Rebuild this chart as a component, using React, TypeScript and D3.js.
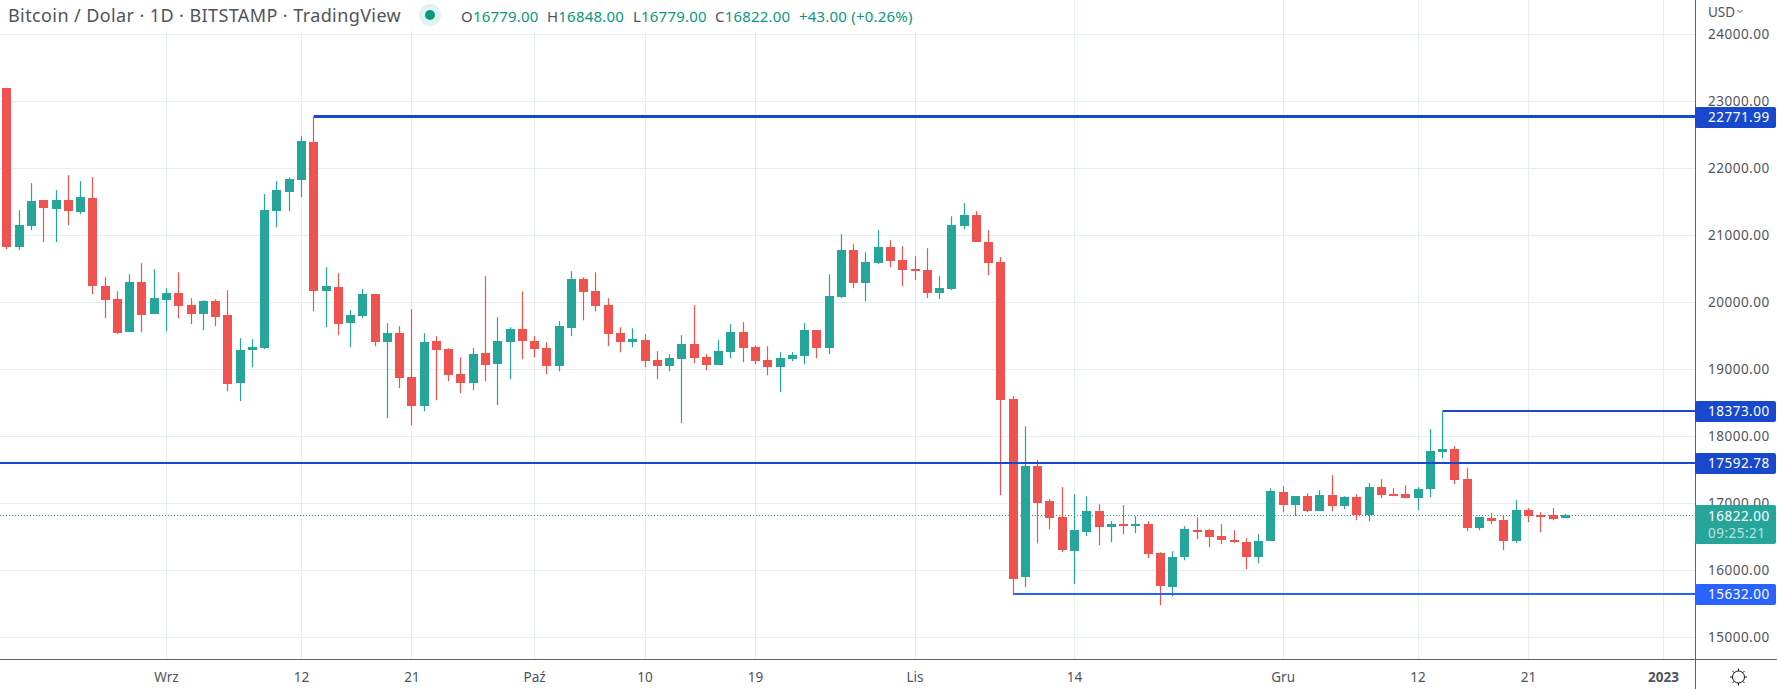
import * as d3 from "d3";

const W = 1777;
const H = 689;
const AXIS_X = 1695;
const AXIS_Y = 659;
const FONT = "'Noto Sans', sans-serif";
const UP = "#26a69a";
const DOWN = "#ef5350";
const GRID = "#e6edf3";
const TEXT = "#50535e";

// daily candles, first one is 19 Aug 2022
const firstDay = new Date(Date.UTC(2022, 7, 19));
const opens = [
  23199, 20826, 21139, 21527, 21393, 21527, 21348, 21557, 20243, 20049, 19557, 20303, 19825,
  20034, 20139, 19960, 19825, 20019, 19811, 18796, 19288, 19318, 21363, 21646, 21825, 22392, 20169, 20228, 19691, 19796, 20124, 19408, 19542, 18885, 18453, 19423, 19303, 18930, 18795, 19243, 19079, 19407, 19601,
  19422, 19318, 19049, 19616, 20347, 20168, 19959, 19541, 19407, 19437, 19139, 19049, 19153, 19377, 19183, 19064, 19258, 19556, 19332, 19139, 19034, 19153, 19198, 19586, 19318, 20079, 20780, 20288, 20586, 20826, 20632,
  20497, 20482, 20139, 20199, 21139, 21303, 20900, 20602, 18557, 15900, 17557, 17035, 16796, 16289, 16572, 16886, 16647, 16691, 16677, 16691, 16258, 15750, 16198, 16601, 16601, 16512, 16452, 16422, 16198, 16437,
  17169, 16975, 17109, 16885, 17124, 16960, 17094, 16825, 17243, 17139, 17139, 17079, 17214, 17766, 17811, 17362, 16631, 16780, 16750, 16437, 16900, 16825, 16825, 16779,
];
const highs = [
  23205, 21378, 21781, 21527, 21676, 21900, 21811, 21870, 20378, 20169, 20422, 20587, 20497,
  20214, 20452, 20064, 20034, 20049, 20184, 19467, 19452, 21617, 21811, 21870, 22482, 22771.99, 20527, 20437, 19885, 20199, 20124, 19691, 19646, 19900, 19542, 19497, 19318, 19183, 19318, 20392, 19780, 19631, 20168,
  19497, 19407, 19721, 20467, 20377, 20452, 20064, 19631, 19616, 19527, 19273, 19228, 19512, 19959, 19228, 19437, 19676, 19706, 19362, 19347, 19258, 19258, 19691, 19586, 20422, 21019, 20870, 20750, 21079, 20930, 20841,
  20691, 20811, 20393, 21288, 21482, 21363, 21079, 20676, 18602, 18154, 17647, 17065, 17244, 17139, 17109, 16990, 16736, 16975, 16811, 16736, 16273, 16288, 16661, 16795, 16616, 16691, 16601, 16482, 16542, 17228,
  17258, 17109, 17154, 17198, 17422, 17109, 17139, 17303, 17363, 17228, 17273, 17243, 18109, 18373, 17855, 17527, 16795, 16855, 16825, 17049, 16930, 16870, 16930, 16848,
];
const lows = [
  20796, 20781, 21079, 20900, 20900, 21154, 21318, 20124, 19766, 19527, 19557, 19557, 19825,
  19572, 19766, 19676, 19587, 19646, 18676, 18530, 19034, 19303, 21124, 21363, 21572, 19870, 19632, 19512, 19333, 19766, 19348, 18274, 18721, 18169, 18378, 18542, 18825, 18646, 18691, 18825, 18467, 18855, 19153,
  19183, 18930, 18974, 19497, 19735, 19870, 19347, 19258, 19332, 19034, 18855, 18974, 18200, 19094, 18989, 19064, 19168, 19109, 19079, 18915, 18661, 19124, 19079, 19168, 19228, 20064, 20213, 20019, 20571, 20527, 20244,
  20333, 20065, 20050, 20184, 21094, 20900, 20408, 17124, 15632, 15751, 16408, 16617, 16274, 15796, 16513, 16378, 16423, 16542, 16557, 16183, 15482, 15616, 16153, 16467, 16348, 16392, 16407, 16019, 16109, 16437,
  16870, 16810, 16870, 16885, 16885, 16915, 16751, 16736, 17079, 17109, 17079, 16900, 17094, 17676, 17288, 16586, 16601, 16691, 16303, 16407, 16721, 16571, 16750, 16779,
];
const closes = [
  20826, 21154, 21512, 21408, 21527, 21363, 21572, 20243, 20034, 19542, 20303, 19811, 20064,
  20139, 19945, 19825, 20019, 19781, 18781, 19288, 19333, 21378, 21676, 21840, 22408, 20169, 20243, 19676, 19811, 20124, 19408, 19542, 18871, 18453, 19408, 19288, 18915, 18795, 19228, 19064, 19422, 19601, 19422,
  19303, 19049, 19646, 20347, 20153, 19944, 19527, 19407, 19452, 19124, 19049, 19168, 19377, 19168, 19064, 19273, 19556, 19318, 19124, 19034, 19168, 19213, 19586, 19318, 20094, 20780, 20288, 20601, 20825, 20617, 20482,
  20468, 20139, 20214, 21154, 21303, 20900, 20587, 18542, 15870, 17557, 17005, 16781, 16304, 16602, 16886, 16647, 16691, 16677, 16691, 16243, 15765, 16198, 16616, 16586, 16497, 16452, 16422, 16198, 16437, 17184,
  16975, 17109, 16885, 17124, 16960, 17094, 16825, 17243, 17124, 17124, 17079, 17213, 17781, 17811, 17348, 16631, 16795, 16735, 16437, 16900, 16815, 16815, 16765, 16822,
];

const priceTicks = [24000, 23000, 22000, 21000, 20000, 19000, 18000, 17000, 16000, 15000];
const timeTicks: [Date, string, boolean][] = [
  [new Date(Date.UTC(2022, 8, 1)), "Wrz", false],
  [new Date(Date.UTC(2022, 8, 12)), "12", false],
  [new Date(Date.UTC(2022, 8, 21)), "21", false],
  [new Date(Date.UTC(2022, 9, 1)), "Paź", false],
  [new Date(Date.UTC(2022, 9, 10)), "10", false],
  [new Date(Date.UTC(2022, 9, 19)), "19", false],
  [new Date(Date.UTC(2022, 10, 1)), "Lis", false],
  [new Date(Date.UTC(2022, 10, 14)), "14", false],
  [new Date(Date.UTC(2022, 11, 1)), "Gru", false],
  [new Date(Date.UTC(2022, 11, 12)), "12", false],
  [new Date(Date.UTC(2022, 11, 21)), "21", false],
  [new Date(Date.UTC(2023, 0, 1)), "2023", true],
];

// drawn horizontal rays
const levelValues = [22771.99, 18373, 17592.78, 15632];
const levelStarts = [
  new Date(Date.UTC(2022, 8, 13)),
  new Date(Date.UTC(2022, 11, 14)),
  null,
  new Date(Date.UTC(2022, 10, 9)),
];
const levelColors = ["#1848cc", "#1848cc", "#1848cc", "#2962ff"];
const levelWidths = [3, 2, 2, 2];

const lastPrice = 16822;
const countdown = "09:25:21";
const changeText = "+43.00 (+0.26%)";

const x = d3
  .scaleUtc()
  .domain([new Date(Date.UTC(2022, 8, 1)), new Date(Date.UTC(2023, 0, 1))])
  .range([166.5, 1663.5]);
const y = d3.scaleLinear().domain([15000, 24000]).range([637.5, 34.5]);

const snap = (v: number) => Math.floor(v) + 0.5;
const fmt = d3.format(".2f");

// the rays sit about a pixel above the scale position in the screenshot
const levelY = (v: number, w: number) => Math.round(y(v) - 1) + (w % 2 ? 0.5 : 0);

const candles = opens.map((o, i) => ({
  date: d3.utcDay.offset(firstDay, i),
  o,
  h: highs[i],
  l: lows[i],
  c: closes[i],
}));

function Label({ value, width, color }: { value: number; width: number; color: string }) {
  const yy = levelY(value, width);
  return (
    <g>
      <rect x={AXIS_X} y={Math.round(yy - 10)} width={W - AXIS_X - 1} height={21} rx={2} fill={color} />
      <text x={1708} y={yy + 0.5} dy="0.35em" fill="#fff" fontSize={13.5} letterSpacing={0.5}>
        {fmt(value)}
      </text>
    </g>
  );
}

export default function App() {
  const last = candles[candles.length - 1];
  const gearAngles = d3.range(8).map((i) => (i * Math.PI) / 4);
  return (
    <svg
      width={W}
      height={H}
      viewBox={`0 0 ${W} ${H}`}
      style={{ position: "absolute", left: 0, top: 0, background: "#fff", fontFamily: FONT }}
    >
      <g stroke={GRID} strokeWidth={1}>
        {priceTicks.map((p) => (
          <line key={p} x1={0} x2={AXIS_X} y1={y(p)} y2={y(p)} />
        ))}
        {timeTicks.map(([d]) => (
          <line key={+d} x1={snap(x(d))} x2={snap(x(d))} y1={0} y2={AXIS_Y} />
        ))}
      </g>

      <line
        x1={0}
        x2={AXIS_X}
        y1={snap(y(lastPrice))}
        y2={snap(y(lastPrice))}
        stroke={UP}
        strokeWidth={1}
        strokeDasharray="1 2"
      />

      {candles.map((d) => {
        const cx = snap(x(d.date));
        const color = d.c >= d.o ? UP : DOWN;
        const top = Math.round(y(Math.max(d.o, d.c)));
        const bottom = Math.round(y(Math.min(d.o, d.c)));
        return (
          <g key={+d.date} fill={color} stroke="none">
            <line x1={cx} x2={cx} y1={y(d.h)} y2={y(d.l)} stroke={color} strokeWidth={1.2} />
            <rect x={cx - 4.5} y={top} width={9} height={Math.max(bottom - top, 2)} />
          </g>
        );
      })}

      {levelValues.map((v, i) => {
        const s = levelStarts[i];
        const ly = levelY(v, levelWidths[i]);
        return (
          <line
            key={v}
            x1={s ? x(s) : 0}
            x2={AXIS_X}
            y1={ly}
            y2={ly}
            stroke={levelColors[i]}
            strokeWidth={levelWidths[i]}
          />
        );
      })}

      {/* header strip */}
      <rect x={0} y={0} width={940} height={31} fill="#fff" fillOpacity={0.85} />
      <text x={8} y={16} dy="0.35em" fontSize={18} fill={TEXT} letterSpacing={0.4}>
        Bitcoin / Dolar · 1D · BITSTAMP · TradingView
      </text>
      <circle cx={430} cy={15} r={11} fill="#dff3ef" />
      <circle cx={430} cy={15} r={5} fill="#089981" />
      <g fontSize={15} letterSpacing={0.2} dominantBaseline="central">
        {[
          ["O", last.o, 461],
          ["H", last.h, 547],
          ["L", last.l, 633],
          ["C", last.c, 715],
        ].map(([k, v, px]) => (
          <text key={k as string} x={px as number} y={16} fill="#089981">
            <tspan fill={TEXT}>{k as string}</tspan>
            {fmt(v as number)}
          </text>
        ))}
        <text x={799} y={16} fill="#089981">
          {changeText}
        </text>
      </g>

      {/* price axis */}
      <rect x={AXIS_X} y={0} width={W - AXIS_X} height={H} fill="#fff" />
      <line x1={AXIS_X + 0.5} x2={AXIS_X + 0.5} y1={0} y2={H} stroke="#5d606b" />
      <line x1={0} x2={W} y1={AXIS_Y + 0.5} y2={AXIS_Y + 0.5} stroke="#5d606b" />
      <g fill={TEXT} fontSize={13.5} letterSpacing={0.5}>
        {priceTicks.map((p) => (
          <text key={p} x={1708} y={y(p)} dy="0.35em">
            {fmt(p)}
          </text>
        ))}
        <text x={1708} y={12} dy="0.35em" letterSpacing={0}>
          USD
        </text>
      </g>
      <path d="M1737.5 10 l2.5 2.5 l2.5 -2.5" fill="none" stroke={TEXT} strokeWidth={1} />

      {levelValues.map((v, i) => (
        <Label key={v} value={v} width={levelWidths[i]} color={levelColors[i]} />
      ))}
      <rect
        x={AXIS_X}
        y={Math.round(y(lastPrice) - 10.5)}
        width={W - AXIS_X - 1}
        height={39}
        rx={2}
        fill={UP}
      />
      <text x={1708} y={y(lastPrice) + 0.5} dy="0.35em" fill="#fff" fontSize={13.5} letterSpacing={0.5}>
        {fmt(lastPrice)}
      </text>
      <text
        x={1708}
        y={y(lastPrice) + 17.5}
        dy="0.35em"
        fill="#fff"
        fillOpacity={0.7}
        fontSize={13.5}
        letterSpacing={0.5}
      >
        {countdown}
      </text>

      {/* time axis */}
      <g fill={TEXT} fontSize={13.5} textAnchor="middle">
        {timeTicks.map(([d, l, bold]) => (
          <text key={+d} x={x(d)} y={677} dy="0.35em" fontWeight={bold ? 700 : 400}>
            {l}
          </text>
        ))}
      </g>

      {/* settings gear */}
      <g stroke="#131722" strokeWidth={1} fill="none">
        <circle cx={1738.5} cy={677} r={6} />
        {gearAngles.map((a) => (
          <line
            key={a}
            x1={1738.5 + 6 * Math.cos(a)}
            y1={677 + 6 * Math.sin(a)}
            x2={1738.5 + 8.5 * Math.cos(a)}
            y2={677 + 8.5 * Math.sin(a)}
          />
        ))}
      </g>
    </svg>
  );
}
